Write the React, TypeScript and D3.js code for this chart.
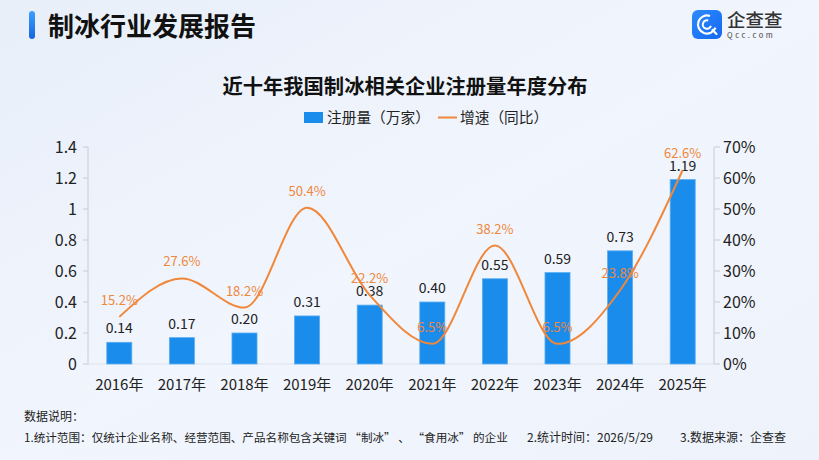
import React, { useEffect } from 'react';
import * as d3 from 'd3';

const years = ['2016年', '2017年', '2018年', '2019年', '2020年', '2021年', '2022年', '2023年', '2024年', '2025年'];
const registrations = [0.14, 0.17, 0.2, 0.31, 0.38, 0.4, 0.55, 0.59, 0.73, 1.19];
const growth = [15.2, 27.6, 18.2, 50.4, 22.2, 6.5, 38.2, 6.5, 23.8, 62.6];
const leftTicks = [0, 0.2, 0.4, 0.6, 0.8, 1, 1.2, 1.4];
const rightTicks = [0, 10, 20, 30, 40, 50, 60, 70];

const W = 819;
const H = 460;
const FONT = '"Noto Sans CJK SC", "Noto Sans", sans-serif';
const BAR = '#1a8cec';
const LINE = '#f0873a';

export default function App() {
  useEffect(() => {
    document.body.style.margin = '0';
  }, []);

  const margin = { left: 88, right: 105, top: 147, bottom: 96 };
  const x = d3.scaleBand<string>().domain(years).range([margin.left, W - margin.right]).paddingInner(0.6).paddingOuter(0.3);
  const yL = d3.scaleLinear().domain([0, 1.4]).range([H - margin.bottom, margin.top]);
  const yR = d3.scaleLinear().domain([0, 70]).range([H - margin.bottom, margin.top]);
  const cx = (d: string) => (x(d) ?? 0) + x.bandwidth() / 2;

  const line = d3.line<number>()
    .x((_, i) => cx(years[i]))
    .y(d => yR(d))
    .curve(d3.curveMonotoneX);

  const axisL = margin.left;
  const axisR = W - margin.right;
  const base = yL(0);

  return (
    <svg width={W} height={H} style={{ display: 'block', fontFamily: FONT }}>
      <defs>
        <linearGradient id="bg" x1="0" y1="0" x2="1" y2="1">
          <stop offset="0%" stopColor="#e8eff9" />
          <stop offset="50%" stopColor="#f1f5fd" />
          <stop offset="100%" stopColor="#eef3fb" />
        </linearGradient>
        <linearGradient id="tag" x1="0" y1="0" x2="0" y2="1">
          <stop offset="0%" stopColor="#3aa0ff" />
          <stop offset="100%" stopColor="#1665e0" />
        </linearGradient>
        <linearGradient id="logo" x1="0" y1="0" x2="1" y2="1">
          <stop offset="0%" stopColor="#2b8cff" />
          <stop offset="100%" stopColor="#1567f0" />
        </linearGradient>
      </defs>
      <rect width={W} height={H} fill="url(#bg)" />

      {/* header */}
      <rect x={29} y={11} width={6} height={28} rx={3} fill="url(#tag)" />
      <text x={48} y={36} fontSize={26} fontWeight={700} fill="#111">制冰行业发展报告</text>

      {/* brand mark */}
      <g>
        <rect x={692} y={10} width={30} height={29} rx={6} fill="url(#logo)" />
        <circle cx={707} cy={24.5} r={9} fill="none" stroke="#fff" strokeWidth={2.2} strokeDasharray="42 15" transform="rotate(20 707 24.5)" />
        <circle cx={707} cy={24.5} r={4.2} fill="none" stroke="#fff" strokeWidth={2} strokeDasharray="19 7.5" transform="rotate(20 707 24.5)" />
        <line x1={712.5} y1={30} x2={716.5} y2={34} stroke="#fff" strokeWidth={2.2} strokeLinecap="round" />
        <text x={727} y={27} fontSize={18.5} fontWeight={500} fill="#333">企查查</text>
        <text x={727} y={38} fontSize={7.5} fill="#444" letterSpacing={2.6}>Qcc.com</text>
      </g>

      {/* title & legend */}
      <text x={405} y={94} textAnchor="middle" fontSize={20.3} fontWeight={700} fill="#111">近十年我国制冰相关企业注册量年度分布</text>
      <rect x={304} y={112} width={19} height={11} fill={BAR} />
      <text x={327} y={123} fontSize={14.7} fill="#222">注册量（万家）</text>
      <line x1={438} y1={117.5} x2={457} y2={117.5} stroke={LINE} strokeWidth={2} />
      <text x={460} y={123} fontSize={14.7} fill="#222">增速（同比）</text>

      {/* axes */}
      <line x1={axisL} y1={margin.top} x2={axisL} y2={base} stroke="#c8ccd3" />
      <line x1={axisR} y1={margin.top} x2={axisR} y2={base} stroke="#c8ccd3" />
      <line x1={axisL} y1={base} x2={axisR} y2={base} stroke="#dde2ea" />
      {leftTicks.map(t => (
        <g key={'l' + t}>
          <line x1={axisL - 5} x2={axisL} y1={yL(t)} y2={yL(t)} stroke="#c8ccd3" />
          <text x={axisL - 11} y={yL(t) + 6} textAnchor="end" fontSize={16} fill="#222">{t}</text>
        </g>
      ))}
      {rightTicks.map(t => (
        <g key={'r' + t}>
          <line x1={axisR} x2={axisR + 6} y1={yR(t)} y2={yR(t)} stroke="#c8ccd3" />
          <text x={axisR + 9} y={yR(t) + 6} fontSize={16} fill="#222">{t}%</text>
        </g>
      ))}
      {years.map(y => (
        <text key={y} x={cx(y)} y={base + 26} textAnchor="middle" fontSize={15} fill="#222">{y}</text>
      ))}

      {/* bars */}
      {registrations.map((v, i) => (
        <g key={'b' + i}>
          <rect x={x(years[i])} y={yL(v)} width={x.bandwidth()} height={base - yL(v)} fill={BAR} stroke="#5aaef2" strokeWidth={0.8} />
          <text x={cx(years[i])} y={yL(v) - 9} textAnchor="middle" fontSize={14} fill="#222">{v.toFixed(2)}</text>
        </g>
      ))}

      {/* growth line */}
      <path d={line(growth) ?? ''} fill="none" stroke={LINE} strokeWidth={2} />
      {growth.map((g, i) => (
        <text key={'g' + i} x={cx(years[i])} y={yR(g) - 12} textAnchor="middle" fontSize={13} fill={LINE}>{g}%</text>
      ))}

      {/* notes */}
      <text x={24} y={421} fontSize={12} fill="#222">数据说明：</text>
      <text x={24} y={442} fontSize={11.6} fill="#222">1.统计范围：仅统计企业名称、经营范围、产品名称包含关键词 “制冰” 、 “食用冰” 的企业</text>
      <text x={527} y={442} fontSize={12} fill="#222">2.统计时间：2026/5/29</text>
      <text x={680} y={442} fontSize={12} fill="#222">3.数据来源：企查查</text>
    </svg>
  );
}
